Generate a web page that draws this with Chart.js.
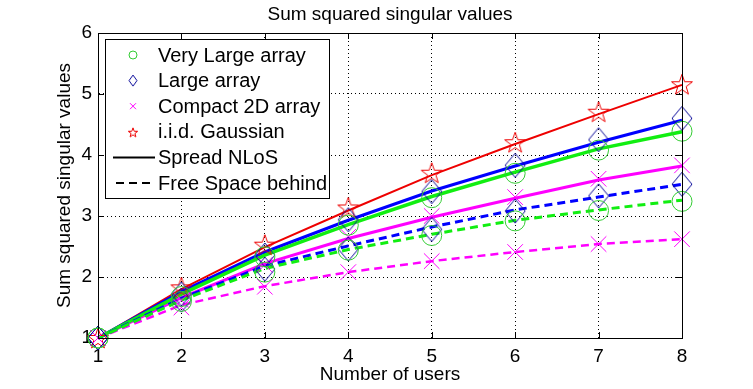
<!DOCTYPE html>
<html>
<head>
<meta charset="utf-8">
<script src="https://cdn.jsdelivr.net/npm/chart.js@4"></script>
<style>
  body { margin: 0; background: #fff; }
  #plot { display: block; }
</style>
</head>
<body>
<canvas id="plot" width="753" height="389"></canvas>
<script>
// x values (number of users) and y ticks
const users = [1, 2, 3, 4, 5, 6, 7, 8];
const yTicks = [1, 2, 3, 4, 5, 6];

// curves (lines)
const veryLargeSpread = [1, 1.72, 2.36, 2.86, 3.32, 3.72, 4.10, 4.38];
const largeSpread     = [1, 1.76, 2.41, 2.93, 3.41, 3.82, 4.21, 4.57];
const compactSpread   = [1, 1.66, 2.22, 2.63, 2.98, 3.29, 3.59, 3.82];
const gaussianLine    = [1, 1.80, 2.49, 3.09, 3.67, 4.18, 4.67, 5.15];
const veryLargeFree   = [1, 1.62, 2.14, 2.45, 2.70, 2.93, 3.10, 3.26];
const largeFree       = [1, 1.65, 2.18, 2.51, 2.82, 3.10, 3.31, 3.52];
const compactFree     = [1, 1.54, 1.85, 2.08, 2.26, 2.41, 2.54, 2.62];

// simulated points (markers)
const veryLargeSpreadSim = [1, 1.68, 2.33, 2.85, 3.30, 3.70, 4.08, 4.39];
const largeSpreadSim     = [1, 1.72, 2.36, 2.94, 3.40, 3.83, 4.25, 4.60];
const compactSpreadSim   = [1, 1.62, 2.20, 2.66, 3.00, 3.31, 3.61, 3.83];
const gaussianSim        = [1, 1.83, 2.53, 3.14, 3.71, 4.21, 4.71, 5.16];
const veryLargeFreeSim   = [1, 1.60, 2.08, 2.44, 2.68, 2.92, 3.09, 3.24];
const largeFreeSim       = [1, 1.62, 2.13, 2.46, 2.78, 3.08, 3.33, 3.52];
const compactFreeSim     = [1, 1.50, 1.84, 2.08, 2.26, 2.41, 2.54, 2.62];

const chartTitle = 'Sum squared singular values';
const legendLabels = ['Very Large array', 'Large array', 'Compact 2D array', 'i.i.d. Gaussian', 'Spread NLoS', 'Free Space behind'];

const GREEN = '#11ee11', BLUE = '#0000ff', MAGENTA = '#ff00ff', RED = '#ee0000';
const CIRCLE = '#33cc33', NAVY = '#0a0a9a';
const FONT = "'Liberation Sans', Arial, sans-serif";

// marker images
function diamondImg(w, h, color) {
  const c = document.createElement('canvas');
  c.width = w + 2; c.height = h + 2;
  const g = c.getContext('2d');
  g.strokeStyle = color; g.lineWidth = 1;
  g.beginPath();
  g.moveTo(c.width / 2, 1); g.lineTo(c.width - 1, c.height / 2);
  g.lineTo(c.width / 2, c.height - 1); g.lineTo(1, c.height / 2);
  g.closePath(); g.stroke();
  return c;
}
function starImg(r, color) {
  const s = Math.ceil(r * 2 + 2);
  const c = document.createElement('canvas');
  c.width = s; c.height = s;
  const g = c.getContext('2d');
  g.strokeStyle = color; g.lineWidth = 1;
  g.beginPath();
  for (let i = 0; i < 10; i++) {
    const rr = i % 2 === 0 ? r : r * 0.4;
    const a = -Math.PI / 2 + i * Math.PI / 5;
    const px = s / 2 + rr * Math.cos(a), py = s / 2 + rr * Math.sin(a) + 1;
    if (i === 0) g.moveTo(px, py); else g.lineTo(px, py);
  }
  g.closePath(); g.stroke();
  return c;
}
const bigDiamond = diamondImg(20, 24, NAVY);
const bigStar = starImg(11, RED);
const smallDiamond = diamondImg(8, 11, NAVY);
const smallStar = starImg(5, RED);

const pts = arr => users.map((u, i) => ({ x: u, y: arr[i] }));

function line(arr, color, width, dashed) {
  return { data: pts(arr), borderColor: color, borderWidth: width, borderDash: dashed ? [8, 5] : [],
           pointRadius: 0, fill: false, tension: 0, order: 2, clip: false };
}
function marks(arr, style, color, radius) {
  return { data: pts(arr), showLine: false, pointStyle: style, pointRadius: radius,
           borderColor: color, pointBorderColor: color, pointBackgroundColor: 'rgba(0,0,0,0)',
           pointBorderWidth: 1, order: 1, clip: false };
}

const datasets = [
  line(veryLargeFree, GREEN, 3, true),
  line(largeFree, BLUE, 3, true),
  line(compactFree, MAGENTA, 2.5, true),
  line(veryLargeSpread, GREEN, 3.5, false),
  line(largeSpread, BLUE, 3, false),
  line(compactSpread, MAGENTA, 3, false),
  line(gaussianLine, RED, 2, false),
  marks(veryLargeSpreadSim, 'circle', CIRCLE, 10),
  marks(veryLargeFreeSim, 'circle', CIRCLE, 10),
  marks(largeSpreadSim, bigDiamond, NAVY, 12),
  marks(largeFreeSim, bigDiamond, NAVY, 12),
  marks(compactSpreadSim, 'crossRot', MAGENTA, 11),
  marks(compactFreeSim, 'crossRot', MAGENTA, 11),
  marks(gaussianSim, bigStar, RED, 11)
];

// box, inward ticks, title and legend in matlab style
const matlabFrame = {
  id: 'matlabFrame',
  afterDatasetsDraw(chart) {
    const { ctx, chartArea: a, scales: { x, y } } = chart;
    ctx.save();
    ctx.strokeStyle = '#000'; ctx.lineWidth = 1;
    ctx.strokeRect(a.left + 0.5, a.top + 0.5, a.right - a.left, a.bottom - a.top);
    ctx.beginPath();
    users.forEach(u => {
      const px = Math.round(x.getPixelForValue(u)) + 0.5;
      ctx.moveTo(px, a.bottom); ctx.lineTo(px, a.bottom - 6);
      ctx.moveTo(px, a.top); ctx.lineTo(px, a.top + 6);
    });
    yTicks.forEach(v => {
      const py = Math.round(y.getPixelForValue(v)) + 0.5;
      ctx.moveTo(a.left, py); ctx.lineTo(a.left + 6, py);
      ctx.moveTo(a.right, py); ctx.lineTo(a.right - 6, py);
    });
    ctx.stroke();

    // title centred over the plot area
    ctx.fillStyle = '#000';
    ctx.font = '19px ' + FONT;
    ctx.textAlign = 'center';
    ctx.textBaseline = 'middle';
    ctx.fillText(chartTitle, (a.left + a.right) / 2, 15);

    // legend
    const lx = 105, ly = 39, lw = 224, lh = 159;
    ctx.fillStyle = '#fff';
    ctx.fillRect(lx, ly, lw, lh);
    ctx.strokeRect(lx + 0.5, ly + 0.5, lw, lh);
    const rowY = i => 55 + i * 25.6;
    const mx = 133;
    ctx.strokeStyle = CIRCLE;
    ctx.beginPath(); ctx.arc(mx, rowY(0), 4, 0, Math.PI * 2); ctx.stroke();
    ctx.drawImage(smallDiamond, mx - smallDiamond.width / 2, rowY(1) - smallDiamond.height / 2);
    ctx.strokeStyle = MAGENTA;
    ctx.beginPath();
    ctx.moveTo(mx - 3, rowY(2) - 3); ctx.lineTo(mx + 3, rowY(2) + 3);
    ctx.moveTo(mx + 3, rowY(2) - 3); ctx.lineTo(mx - 3, rowY(2) + 3);
    ctx.stroke();
    ctx.drawImage(smallStar, mx - smallStar.width / 2, rowY(3) - smallStar.height / 2);
    ctx.strokeStyle = '#000'; ctx.lineWidth = 2;
    ctx.beginPath(); ctx.moveTo(113, rowY(4)); ctx.lineTo(155, rowY(4)); ctx.stroke();
    ctx.setLineDash([8, 5]);
    ctx.beginPath(); ctx.moveTo(116, rowY(5)); ctx.lineTo(155, rowY(5)); ctx.stroke();
    ctx.setLineDash([]);
    ctx.fillStyle = '#000';
    ctx.font = '20px ' + FONT;
    ctx.textAlign = 'left';
    legendLabels.forEach((t, i) => ctx.fillText(t, 158, rowY(i) + 1));
    ctx.restore();
  }
};

new Chart(document.getElementById('plot'), {
  type: 'line',
  data: { datasets: datasets },
  plugins: [matlabFrame],
  options: {
    responsive: false,
    animation: false,
    devicePixelRatio: 1,
    layout: { padding: { left: 0, right: 71, top: 33, bottom: 0 } },
    plugins: {
      legend: { display: false },
      tooltip: { enabled: false },
      title: { display: false }
    },
    scales: {
      x: {
        type: 'linear', min: 1, max: 8,
        afterFit: s => { s.height = 51; },
        afterBuildTicks: s => { s.ticks = users.map(v => ({ value: v })); },
        ticks: { color: '#000', font: { family: FONT, size: 19 }, padding: 7, maxRotation: 0 },
        grid: { color: '#000', drawTicks: false, lineWidth: 1 },
        border: { display: true, color: '#000', dash: [1, 3] },
        title: { display: true, text: 'Number of users', color: '#000',
                 font: { family: FONT, size: 19 }, padding: { top: 0, bottom: 3 } }
      },
      y: {
        type: 'linear', min: 1, max: 6,
        afterFit: s => { s.width = 98; },
        afterBuildTicks: s => { s.ticks = yTicks.map(v => ({ value: v })); },
        ticks: { color: '#000', font: { family: FONT, size: 19 }, padding: 6 },
        grid: { color: '#000', drawTicks: false, lineWidth: 1 },
        border: { display: true, color: '#000', dash: [1, 3] },
        title: { display: true, text: 'Sum squared singular values', color: '#000',
                 font: { family: FONT, size: 19 }, padding: { top: 53, bottom: 0 } }
      }
    }
  }
});
</script>
</body>
</html>
